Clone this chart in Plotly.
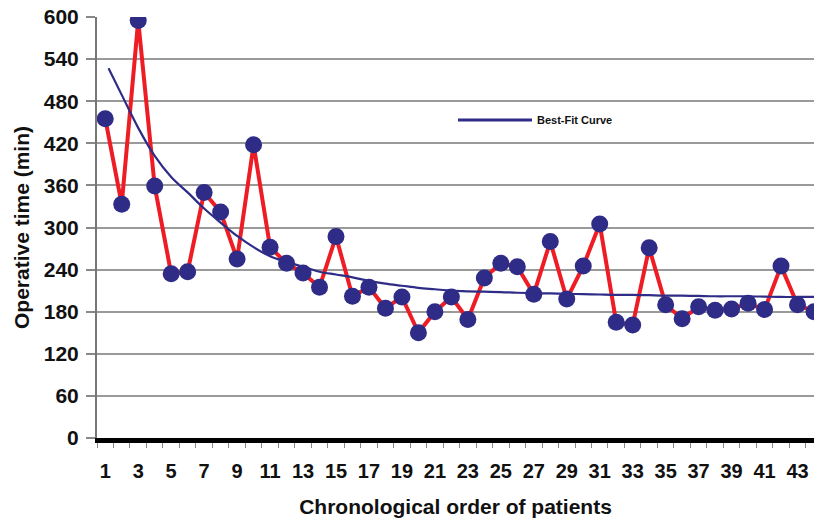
import plotly.graph_objects as go

patients = list(range(1, 45))
operative_time = [455, 333, 595, 359, 234, 237, 350, 322, 255, 418,
                  272, 249, 235, 215, 287, 202, 215, 185, 201, 150,
                  180, 201, 169, 228, 249, 244, 205, 280, 198, 245,
                  305, 165, 161, 271, 190, 170, 187, 182, 184, 192,
                  183, 245, 190, 180]

fit_x = [1.2] + list(range(2, 45))
fit_y = [527, 489, 442, 402, 372, 350, 327, 307, 288, 272,
         259, 251, 244, 237, 233, 229, 224, 220, 217, 214,
         212, 210, 209, 208.5, 208, 207, 206.5, 206, 205.5, 205,
         204.5, 204, 204, 203.5, 203, 203, 202.5, 202, 202, 202,
         201.5, 201, 201, 201]

x_ticks = list(range(1, 44, 2))
y_ticks = list(range(0, 601, 60))

NAVY = "#2E2C86"
RED = "#EE1C25"
FONT = dict(family="Liberation Sans, Arial, sans-serif", color="#111111")

fig = go.Figure()
fig.add_trace(go.Scatter(
    x=patients, y=operative_time, mode="lines+markers",
    line=dict(color=RED, width=4),
    marker=dict(color=NAVY, size=17, line=dict(width=0)),
    showlegend=False,
))
fig.add_trace(go.Scatter(
    x=fit_x, y=fit_y, mode="lines", name="Best-Fit Curve",
    line=dict(color=NAVY, width=2.2, shape="spline"),
    showlegend=False,
))

# legend key drawn manually
fig.add_shape(type="line", xref="paper", yref="paper",
              x0=(458 - 97) / 717, x1=(532 - 97) / 717,
              y0=(438 - 120) / 421, y1=(438 - 120) / 421,
              line=dict(color=NAVY, width=3))
fig.add_annotation(text="Best-Fit Curve", xref="paper", yref="paper",
                   x=(535 - 97) / 717, y=(438 - 120) / 421,
                   xanchor="left", yanchor="middle", showarrow=False,
                   font=dict(size=11, weight="bold", **FONT))

fig.update_layout(
    width=814, height=521,
    margin=dict(l=97, r=0, t=17, b=83),
    plot_bgcolor="white", paper_bgcolor="white",
    font=dict(size=21, **FONT),
)
fig.update_xaxes(
    range=[0.5, 44.0], tickmode="array", tickvals=x_ticks,
    ticktext=[str(v) for v in x_ticks],
    ticks="", showgrid=False, zeroline=False, automargin=False,
    showline=True, linecolor="black", linewidth=5,
    tickfont=dict(size=20, weight="bold", **FONT),
    ticklabelstandoff=11, ticklabeloverflow="allow",
    minor=dict(tickvals=[v + 0.5 for v in range(0, 45)], ticks="outside",
               ticklen=5, tickcolor="#888888", tickwidth=1),
    title=dict(text="Chronological order of patients",
               font=dict(size=21, weight="bold", **FONT), standoff=20),
)
fig.update_yaxes(
    range=[0, 600], tickmode="array", tickvals=y_ticks,
    ticks="outside", ticklen=9, tickcolor="#888888", tickwidth=1.5,
    showgrid=True, gridcolor="#9a9a9a", gridwidth=2, automargin=False,
    zeroline=False, showline=True, linecolor="#777777", linewidth=2,
    tickfont=dict(size=21, weight="bold", **FONT),
    ticklabelstandoff=3, ticklabeloverflow="allow",
    title=dict(text="Operative time (min)",
               font=dict(size=21, weight="bold", **FONT), standoff=8),
)

# remove the default 8px page margin so the figure fills the window exactly
fig.write_html("out.html",
               config={"displayModeBar": False},
               post_script="document.body.style.margin='0';")
